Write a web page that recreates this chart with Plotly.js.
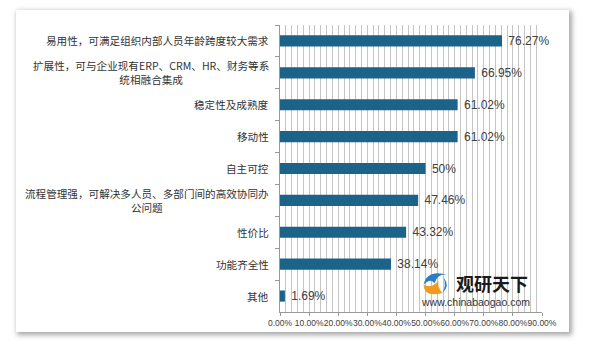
<!DOCTYPE html>
<html><head><meta charset="utf-8">
<script src="https://cdn.plot.ly/plotly-3.0.1.min.js"></script>
<style>
html,body{margin:0;padding:0;background:#fff;}
#wrap{position:relative;width:598px;height:351px;overflow:hidden;}
#panel{position:absolute;left:16px;top:10px;width:553px;height:322px;background:#fff;box-shadow:2px 2px 5px 1px rgba(0,0,0,0.35);}
#chart{position:absolute;left:0;top:0;width:598px;height:351px;}
</style></head>
<body><div id="wrap"><div id="panel"></div><div id="chart"></div></div>
<script>
const categories = [
  "易用性，可满足组织内部人员年龄跨度较大需求",
  "扩展性，可与企业现有ERP、CRM、HR、财务等系<br>统相融合集成",
  "稳定性及成熟度",
  "移动性",
  "自主可控",
  "流程管理强，可解决多人员、多部门间的高效协同办<br>公问题",
  "性价比",
  "功能齐全性",
  "其他"
];
const values = [76.27, 66.95, 61.02, 61.02, 50, 47.46, 43.32, 38.14, 1.69];
const xTickVals = [0,10,20,30,40,50,60,70,80,90];
const xTickText = ["0.00%","10.00%","20.00%","30.00%","40.00%","50.00%","60.00%","70.00%","80.00%","90.00%"];

const ids = categories.map((c,i)=>"c"+i);

const trace = {
  type:'bar', orientation:'h',
  y: ids, x: values,
  marker:{color:'#1b6389'},
  text: values.map(v=>'\u00a0'+v+'%'),
  textposition:'outside',
  constraintext:'none',
  textfont:{family:'Liberation Sans, Arial, sans-serif', size:12, color:'#404040'},
  cliponaxis:false,
  hoverinfo:'none'
};

const annotations = categories.map((c,i)=>({
  xref:'paper', yref:'y', x:0, y:ids[i], xanchor:'right', yanchor:'middle',
  xshift:-9, text:c, showarrow:false, align:'center',
  font:{family:'Noto Sans CJK SC, sans-serif', size:10.6, color:'#333333'}
}));
annotations.push({xref:'paper', yref:'paper', x:0.665, y:0.101, xanchor:'left', yanchor:'middle',
  text:'<b>观研天下</b>', showarrow:false, font:{family:'Noto Sans CJK SC, sans-serif', size:18, color:'#1a1a1a'}});
annotations.push({xref:'paper', yref:'paper', x:0.532, y:0.036, xanchor:'left', yanchor:'middle',
  text:'www.chinabaogao.com', showarrow:false, font:{family:'Liberation Sans, Arial, sans-serif', size:10.5, color:'#333333'}});

const layout = {
  width:598, height:351,
  margin:{l:280, r:56, t:25, b:39},
  paper_bgcolor:'rgba(0,0,0,0)', plot_bgcolor:'rgba(0,0,0,0)',
  showlegend:false,
  bargap:0.65,
  xaxis:{
    range:[0,90], tickvals:xTickVals, ticktext:xTickText,
    tickangle:0,
    showgrid:true, gridcolor:'#c4c4c4', gridwidth:1,
    minor:{dtick:2, tick0:0, showgrid:true, gridcolor:'#c4c4c4', gridwidth:1, ticks:''},
    ticks:'outside', ticklen:3, tickcolor:'#999',
    showline:true, linecolor:'#999', linewidth:1,
    zeroline:false,
    tickfont:{family:'Liberation Sans, Arial, sans-serif', size:8.5, color:'#404040'},
    fixedrange:true
  },
  yaxis:{
    type:'category', autorange:'reversed',
    showticklabels:false,
    ticks:'outside', ticklen:4, tickcolor:'#999', tickson:'boundaries',
    showline:true, linecolor:'#999', linewidth:1,
    showgrid:false, fixedrange:true
  },
  annotations:annotations,
  shapes:[
    {type:'path', xref:'paper', yref:'paper',
     path:'M 0.548 0.095 Q 0.56 0.15 0.64 0.13 Q 0.60 0.135 0.59 0.10 Q 0.575 0.12 0.548 0.095 Z',
     fillcolor:'#2b7fc1', line:{width:0}},
    {type:'path', xref:'paper', yref:'paper',
     path:'M 0.548 0.095 Q 0.55 0.05 0.62 0.066 Q 0.60 0.085 0.605 0.11 Q 0.58 0.08 0.548 0.095 Z',
     fillcolor:'#f39a1e', line:{width:0}},
    {type:'path', xref:'paper', yref:'paper',
     path:'M 0.62 0.066 Q 0.65 0.09 0.625 0.12 Q 0.635 0.09 0.62 0.066 Z',
     fillcolor:'#2b7fc1', line:{width:0}}
  ]
};

Plotly.newPlot('chart',[trace],layout,{staticPlot:true, displayModeBar:false});
</script></body></html>
